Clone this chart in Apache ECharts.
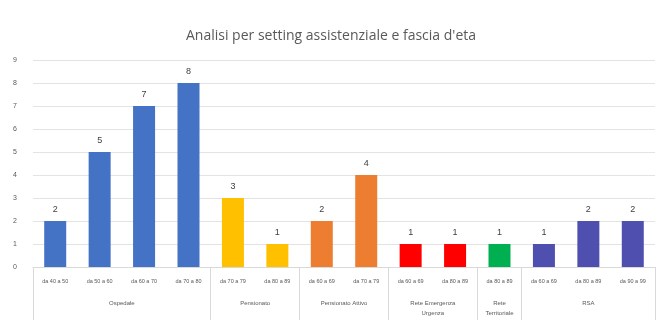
<!DOCTYPE html>
<html><head><meta charset="utf-8">
<script src="https://cdn.jsdelivr.net/npm/echarts@6/dist/echarts.min.js"></script>
<style>html,body{margin:0;padding:0;background:#fff}#c{width:662px;height:324px}</style>
</head><body><div id="c"></div>
<script>
const categories = ["da 40 a 50","da 50 a 60","da 60 a 70","da 70 a 80","da 70 a 79","da 80 a 89","da 60 a 69","da 70 a 79","da 60 a 69","da 80 a 89","da 80 a 89","da 60 a 69","da 80 a 89","da 90 a 99"];
const values = [2,5,7,8,3,1,2,4,1,1,1,1,2,2];
const groupNames = ["Ospedale","Pensionato","Pensionato Attivo","Rete Emergenza\nUrgenza","Rete\nTerritoriale","RSA"];
const groupSizes = [4,2,2,2,1,3];
const groupColors = ["#4472C4","#FFC000","#ED7D31","#FF0000","#00B050","#4F4FB0"];
const yTicks = [0,1,2,3,4,5,6,7,8,9];

const barColors = [], boundaries = [0], centers = {};
let pos = 0;
groupSizes.forEach((n, g) => {
  for (let k = 0; k < n; k++) barColors.push(groupColors[g]);
  centers[(pos + n / 2).toFixed(1)] = groupNames[g];
  pos += n; boundaries.push(pos);
});

const chart = echarts.init(document.getElementById('c'));
chart.setOption({
  animation: false,
  title: { text: "Analisi per setting assistenziale e fascia d'eta", left: 'center', top: 24,
    textStyle: { fontFamily: 'Open Sans', fontSize: 14, fontWeight: 'normal', color: '#595959' } },
  grid: { left: 33, right: 7, top: 60, bottom: 57 },
  xAxis: [{
    type: 'category', data: categories,
    axisLine: { lineStyle: { color: '#d9d9d9' } },
    axisTick: { show: true, length: 53, interval: (i) => boundaries.includes(i), lineStyle: { color: '#d9d9d9' } },
    axisLabel: { interval: 0, fontSize: 5.5, color: '#595959', margin: 11 }
  }, {
    type: 'value', position: 'bottom', min: 0, max: pos, interval: 0.5,
    axisLine: { show: false }, axisTick: { show: false }, splitLine: { show: false },
    axisLabel: { fontSize: 6, color: '#595959', margin: 31, lineHeight: 10, showMinLabel: true, showMaxLabel: true,
      formatter: (v) => centers[v.toFixed(1)] || '' }
  }],
  yAxis: {
    type: 'value', min: yTicks[0], max: yTicks[yTicks.length - 1], interval: 1,
    axisLine: { show: false }, axisTick: { show: false },
    axisLabel: { fontSize: 7, color: '#595959', margin: 16 },
    splitLine: { lineStyle: { color: '#e3e3e3' } }
  },
  series: [{
    type: 'bar', barWidth: 22, xAxisIndex: 0,
    data: values.map((v, i) => ({ value: v, itemStyle: { color: barColors[i] } })),
    label: { show: true, position: 'top', fontSize: 9, color: '#404040', distance: 7 }
  }]
});
</script></body></html>
